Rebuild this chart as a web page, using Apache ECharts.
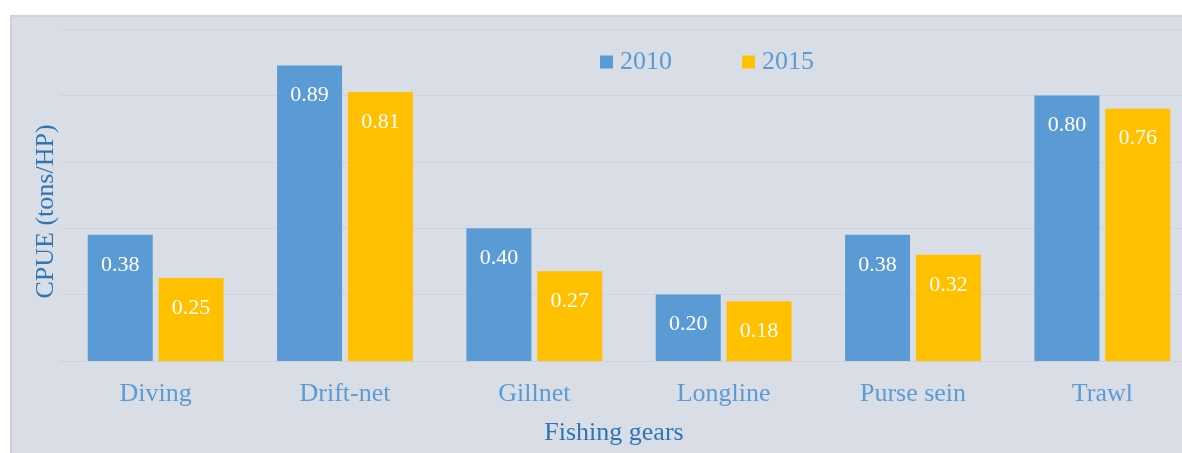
<!DOCTYPE html>
<html>
<head>
<meta charset="utf-8">
<script src="https://cdn.jsdelivr.net/npm/echarts@6/dist/echarts.min.js"></script>
<style>
  html, body { margin: 0; padding: 0; background: #ffffff; }
  #panel {
    position: absolute; left: 10px; top: 15px; width: 1172px; height: 438px;
    background: #d9dee6; box-sizing: border-box;
    border-left: 2px solid #cfd1d4; border-top: 2px solid #d2d3d6;
  }
  #chart { position: absolute; left: 0; top: 0; width: 1182px; height: 453px; }
</style>
</head>
<body>
<div id="panel"></div>
<div id="chart"></div>
<script>
// Catch per unit effort by fishing gear
const gears = ['Diving', 'Drift-net', 'Gillnet', 'Longline', 'Purse sein', 'Trawl'];
const cpue2010 = [0.38, 0.89, 0.40, 0.20, 0.38, 0.80];
const cpue2015 = [0.25, 0.81, 0.27, 0.18, 0.32, 0.76];
const seriesNames = ['2010', '2015'];

const serif = '"Liberation Serif", "Times New Roman", serif';
const chart = echarts.init(document.getElementById('chart'), null, { renderer: 'canvas' });

const valueLabel = {
  show: true,
  position: 'insideTop',
  distance: 19,
  color: '#ffffff',
  fontFamily: serif,
  fontSize: 22,
  formatter: p => p.value.toFixed(2)
};

chart.setOption({
  backgroundColor: 'transparent',
  animation: false,
  legend: {
    left: 595,
    top: 44,
    itemWidth: 13,
    itemHeight: 13,
    itemGap: 70,
    icon: 'rect',
    textStyle: { color: '#5b9bd5', fontFamily: serif, fontSize: 26, padding: [0, 0, 0, 2] },
    data: seriesNames
  },
  grid: { left: 61, right: -15, top: 29, bottom: 92, outerBoundsMode: 'none', containLabel: false },
  xAxis: {
    type: 'category',
    data: gears,
    axisLine: { show: true, lineStyle: { color: '#d3d1d3', width: 1 } },
    axisTick: { show: false },
    axisLabel: { color: '#5b9bd5', fontFamily: serif, fontSize: 26, margin: 20 },
    name: 'Fishing gears',
    nameLocation: 'middle',
    nameGap: 59,
    nameTextStyle: { color: '#2f75b5', fontFamily: serif, fontSize: 26, padding: [0, 30, 0, 0] }
  },
  yAxis: {
    type: 'value',
    min: 0,
    max: 1,
    interval: 0.2,
    axisLine: { show: false },
    axisTick: { show: false },
    axisLabel: { show: false },
    splitLine: { lineStyle: { color: '#d3d1d3', width: 1 } },
    name: 'CPUE (tons/HP)',
    nameLocation: 'middle',
    nameGap: 2,
    nameTextStyle: { color: '#2f75b5', fontFamily: serif, fontSize: 26, padding: [0, 33, 0, 0] }
  },
  series: [
    {
      name: seriesNames[0],
      type: 'bar',
      data: cpue2010,
      barWidth: 65,
      barGap: '9%',
      itemStyle: { color: '#5b9bd5' },
      label: valueLabel
    },
    {
      name: seriesNames[1],
      type: 'bar',
      data: cpue2015,
      barWidth: 65,
      barGap: '9%',
      itemStyle: { color: '#ffc000' },
      label: valueLabel
    }
  ]
});
</script>
</body>
</html>
